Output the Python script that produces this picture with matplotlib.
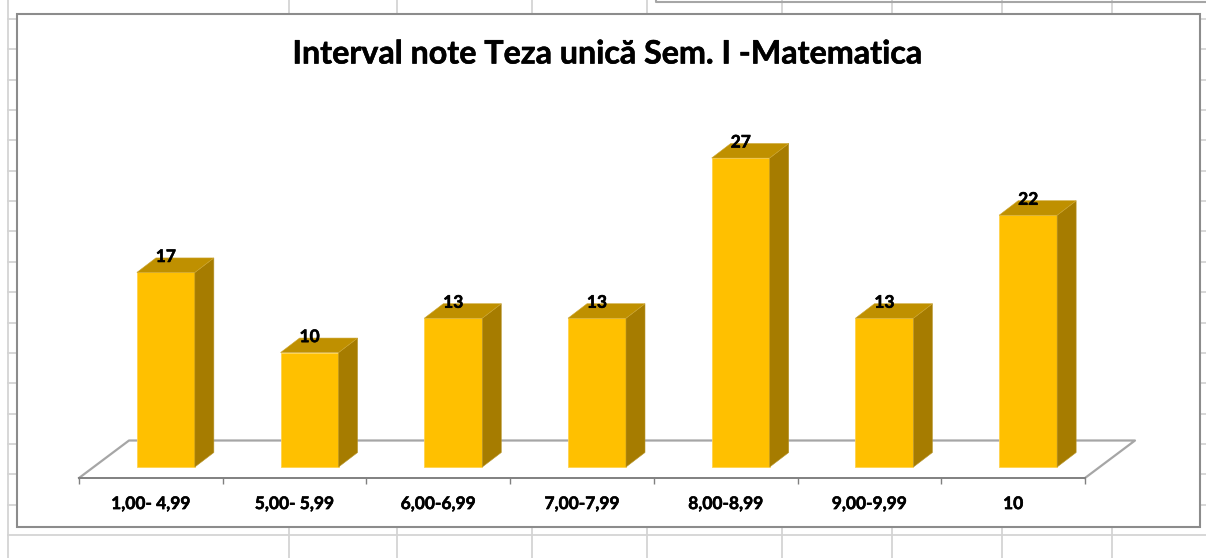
import numpy as np
import matplotlib
matplotlib.use("Agg")
import matplotlib.pyplot as plt
import matplotlib.patheffects as pe
from matplotlib.patches import Polygon, Rectangle

plt.rcParams['font.family'] = ['Lato', 'DejaVu Sans']

categorii = ["1,00- 4,99", "5,00- 5,99", "6,00-6,99", "7,00-7,99", "8,00-8,99", "9,00-9,99", "10"]
valori = [17, 10, 13, 13, 27, 13, 22]
titlu = "Interval note Teza unică Sem. I -Matematica"

W, H = 1206, 558
fig = plt.figure(figsize=(W / 100, H / 100), dpi=100, facecolor="white")
gros = [pe.withStroke(linewidth=0.4, foreground="black")]

# spreadsheet behind the chart, in pixels
bg = fig.add_axes([0, 0, 1, 1], zorder=0)
bg.set_xlim(0, W)
bg.set_ylim(H, 0)
bg.axis("off")
GRID = "#d4d4d4"
for y in np.linspace(19, 535, 18):
    bg.plot([8, W], [y, y], color=GRID, lw=1.3)
for x in [8, 289, 397, 532, 647, 782, 892, 1002, 1112]:
    bg.plot([x, x], [0, H], color=GRID, lw=1.3)
bg.plot([656, 656, W], [0, 2, 2], color="#a6a6a6", lw=1.5)
bg.add_patch(Rectangle((16.5, 13.5), 1183, 513, fc="white", ec="#8c8c8c", lw=1.5, zorder=3))

# plot area: x in categories, y in values
X0, X1 = 79, 1085
Y_AX, Y_ZERO, Y_TOP = 478, 467, 13
PX_Y = 309 / 27
PX_X = (X1 - X0) / 7
ax = fig.add_axes([X0 / W, 1 - Y_AX / H, (X1 - X0) / W, (Y_AX - Y_TOP) / H], zorder=2)
ax.patch.set_alpha(0)
ax.set_xlim(0, 7)
ax.set_ylim((Y_ZERO - Y_AX) / PX_Y, (Y_ZERO - Y_TOP) / PX_Y)

# floor of the 3d chart
y0 = ax.get_ylim()[0]
podea_dx, podea_dy = 50 / PX_X, 37.5 / PX_Y
ax.plot([0, podea_dx, 7 + podea_dx, 7], [y0, y0 + podea_dy, y0 + podea_dy, y0],
        color="#a6a6a6", lw=1.6, clip_on=False, zorder=1)

# bars
poz = np.arange(7) + 0.5 + 15 / PX_X
lat = 58 / PX_X
dx, dy = 19 / PX_X, 14.5 / PX_Y
ax.bar(poz, valori, width=lat, color="#ffc000", edgecolor="#ffd24d", linewidth=0.6, zorder=3)
for x, v in zip(poz, valori):
    st, dr = x - lat / 2, x + lat / 2
    ax.add_patch(Polygon([(dr, 0), (dr + dx, dy), (dr + dx, v + dy), (dr, v)],
                         fc="#a67c00", ec="#b8962e", lw=0.4, zorder=3))
    ax.add_patch(Polygon([(st, v), (st + dx, v + dy), (dr + dx, v + dy), (dr, v)],
                         fc="#bf9000", ec="#cda52f", lw=0.4, zorder=3))
    ax.text(x, v + 1.35, str(v), ha="center", va="center", fontsize=12.5,
            fontweight="bold", color="black", zorder=4, path_effects=gros)

# axis
for s in ["top", "left", "right"]:
    ax.spines[s].set_visible(False)
ax.spines["bottom"].set_color("#808080")
ax.spines["bottom"].set_linewidth(1.4)
ax.set_yticks([])
ax.set_xticks(np.arange(8))
ax.set_xticklabels([])
ax.tick_params(axis="x", which="major", length=4, width=1, color="#808080")
ax.set_xticks(np.arange(7) + 0.5, minor=True)
ax.set_xticklabels(categorii, minor=True, fontsize=12.5, fontweight="bold", color="black",
                   path_effects=gros)
ax.tick_params(axis="x", which="minor", length=0, pad=13)

bg.text(607.5, 54, titlu, ha="center", va="center", fontsize=23.2, fontweight="bold",
        color="black", zorder=5, path_effects=gros)

fig.savefig("out.png", dpi=100)
